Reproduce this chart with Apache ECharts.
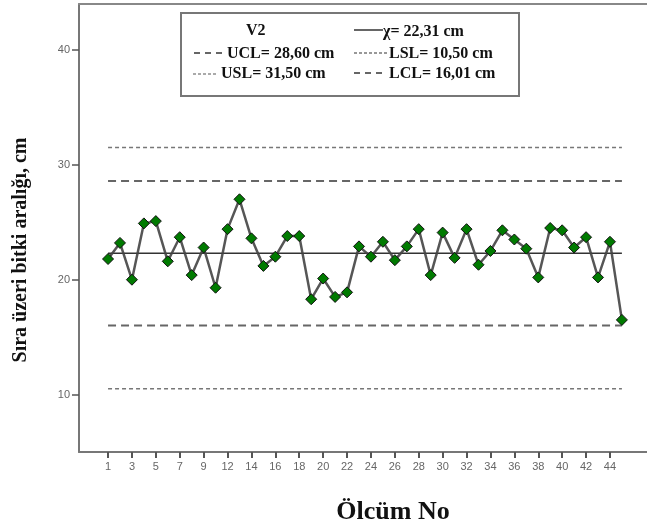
<!DOCTYPE html>
<html>
<head>
<meta charset="utf-8">
<script src="https://cdn.jsdelivr.net/npm/echarts@6/dist/echarts.min.js"></script>
<style>
  html, body { margin: 0; padding: 0; background: #fff; }
  #chart { width: 647px; height: 531px; }
</style>
</head>
<body>
<div id="chart"></div>
<script>
// ölçüm numaraları (x ekseni kategorileri)
const categories = ['1', '2', '3', '4', '5', '6', '7', '8', '9', '11', '12', '13', '14', '15', '16',
  '17', '18', '19', '20', '21', '22', '23', '24', '25', '26', '27', '28', '29', '30', '31', '32',
  '33', '34', '35', '36', '37', '38', '39', '40', '41', '42', '43', '44', '45'];
// sıra üzeri bitki aralığı (cm)
const values = [21.8, 23.2, 20.0, 24.9, 25.1, 21.6, 23.7, 20.4, 22.8, 19.3, 24.4, 27.0, 23.6, 21.2,
  22.0, 23.8, 23.8, 18.3, 20.1, 18.5, 18.9, 22.9, 22.0, 23.3, 21.7, 22.9, 24.4, 20.4, 24.1, 21.9,
  24.4, 21.3, 22.5, 24.3, 23.5, 22.7, 20.2, 24.5, 24.3, 22.8, 23.7, 20.2, 23.3, 16.5];
// kontrol ve spesifikasyon sınırları
const meanValue = 22.31;
const uclValue = 28.60;
const lclValue = 16.01;
const uslValue = 31.50;
const lslValue = 10.50;
const yTicks = [10, 20, 30, 40];

const last = values.length - 1;
const xTickIdx = categories.map((c, i) => i).filter(i => i % 2 === 0);

const limitLine = (name, v, color, type, width) => ({
  name: name,
  type: 'line',
  data: [[0, v], [last, v]],
  symbol: 'none',
  silent: true,
  lineStyle: { color: color, type: type, width: width },
  z: 1
});

let myChart = echarts.init(document.getElementById('chart'));

const serif = '"Liberation Serif", "Times New Roman", serif';
const sans = '"Liberation Sans", Arial, sans-serif';

// legend kutusu (SPSS tarzı)
const legendBox = {
  type: 'group',
  left: 180,
  top: 12,
  children: [
    { type: 'rect', shape: { x: 0, y: 0, width: 338, height: 83 },
      style: { fill: '#fff', stroke: '#777', lineWidth: 2 } },
    { type: 'text', x: 65, y: 18, style: { text: 'V2', font: 'bold 16px ' + serif, fill: '#111', verticalAlign: 'middle' } },
    { type: 'line', shape: { x1: 173, y1: 17, x2: 202, y2: 17 }, style: { stroke: '#333', lineWidth: 1.5 } },
    { type: 'text', x: 202, y: 19, style: { text: 'χ= 22,31 cm', font: 'bold 16px ' + serif, fill: '#111', verticalAlign: 'middle' } },
    { type: 'line', shape: { x1: 13, y1: 40, x2: 44, y2: 40 }, style: { stroke: '#666', lineWidth: 2, lineDash: [6, 5] } },
    { type: 'text', x: 46, y: 41, style: { text: 'UCL= 28,60 cm', font: 'bold 16px ' + serif, fill: '#111', verticalAlign: 'middle' } },
    { type: 'line', shape: { x1: 173, y1: 40, x2: 207, y2: 40 }, style: { stroke: '#777', lineWidth: 1.5, lineDash: [3, 2] } },
    { type: 'text', x: 208, y: 41, style: { text: 'LSL= 10,50 cm', font: 'bold 16px ' + serif, fill: '#111', verticalAlign: 'middle' } },
    { type: 'line', shape: { x1: 12, y1: 61, x2: 36, y2: 61 }, style: { stroke: '#aaa', lineWidth: 2, lineDash: [3, 2] } },
    { type: 'text', x: 40, y: 61, style: { text: 'USL= 31,50 cm', font: 'bold 16px ' + serif, fill: '#111', verticalAlign: 'middle' } },
    { type: 'line', shape: { x1: 173, y1: 60, x2: 204, y2: 60 }, style: { stroke: '#666', lineWidth: 2, lineDash: [6, 5] } },
    { type: 'text', x: 208, y: 61, style: { text: 'LCL= 16,01 cm', font: 'bold 16px ' + serif, fill: '#111', verticalAlign: 'middle' } }
  ]
};

const xMin = -2.43;
const xMax = 45.1;

let option = {
  backgroundColor: '#fff',
  animation: false,
  grid: { left: 79, right: -5, top: 4, bottom: 79 },
  xAxis: [
    {
      type: 'value',
      min: xMin,
      max: xMax,
      position: 'bottom',
      splitLine: { show: false },
      axisLine: { onZero: false, lineStyle: { color: '#777', width: 2 } },
      axisTick: { show: true, length: 6, customValues: xTickIdx, lineStyle: { color: '#555', width: 2 } },
      axisLabel: {
        customValues: xTickIdx,
        formatter: v => categories[v],
        color: '#666',
        fontFamily: sans,
        fontSize: 11,
        margin: 9
      },
      name: 'Ölcüm No',
      nameLocation: 'middle',
      nameGap: 47,
      nameTextStyle: { fontFamily: serif, fontWeight: 'bold', fontSize: 26, color: '#111', padding: [0, 0, 0, 60] }
    },
    {
      type: 'value',
      min: xMin,
      max: xMax,
      position: 'top',
      splitLine: { show: false },
      axisLine: { show: true, onZero: false, lineStyle: { color: '#888', width: 2 } },
      axisTick: { show: false },
      axisLabel: { show: false }
    }
  ],
  yAxis: {
    type: 'value',
    min: 5,
    max: 44,
    splitLine: { show: false },
    axisLine: { show: true, onZero: false, lineStyle: { color: '#777', width: 2 } },
    axisTick: { show: true, length: 7, customValues: yTicks, lineStyle: { color: '#555', width: 1.5 } },
    axisLabel: { customValues: yTicks, color: '#666', fontFamily: sans, fontSize: 11, margin: 9 },
    name: 'Sıra üzeri bitki aralığı, cm',
    nameLocation: 'middle',
    nameGap: 48,
    nameTextStyle: { fontFamily: serif, fontWeight: 'bold', fontSize: 20, color: '#111', padding: [0, 44, 0, 0] }
  },
  graphic: [legendBox],
  series: [
    limitLine('USL', uslValue, '#777', [4, 3], 1.5),
    limitLine('UCL', uclValue, '#666', [8, 5], 2),
    limitLine('χ', meanValue, '#333', 'solid', 1.5),
    limitLine('LCL', lclValue, '#666', [8, 5], 2),
    limitLine('LSL', lslValue, '#777', [4, 3], 1.5),
    {
      name: 'V2',
      type: 'line',
      data: values.map((v, i) => [i, v]),
      symbol: 'diamond',
      symbolSize: 11,
      itemStyle: { color: '#007a00', borderColor: '#111', borderWidth: 1 },
      lineStyle: { color: '#444', width: 2.5, opacity: 0.9 },
      z: 3
    }
  ]
};

myChart.setOption(option);
window.addEventListener('resize', () => myChart.resize());
</script>
</body>
</html>
